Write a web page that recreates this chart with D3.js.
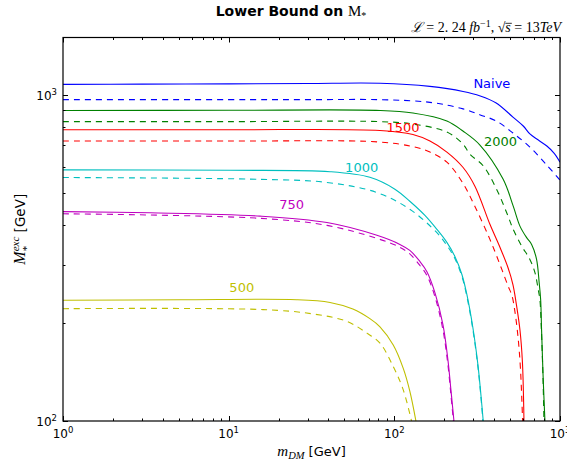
<!DOCTYPE html>
<html>
<head>
<meta charset="utf-8">
<script src="https://cdn.jsdelivr.net/npm/d3@7"></script>
<style>
  body { margin: 0; background: #ffffff; }
  svg { display: block; }
  text { white-space: pre; }
</style>
</head>
<body>
<svg id="chart" width="567" height="468"></svg>
<script>
// Lower bound on M_* as a function of the dark-matter mass.
// Solid lines: observed limit, dashed lines: expected limit.

// ---- axis ticks ----
const xMajorTicks = [1, 10, 100, 1000];
const xTickExponents = ["0", "1", "2", "3"];
const yMajorTicks = [100, 1000];
const yTickExponents = ["2", "3"];

// ---- series names ----
const seriesNames = ["Naive", "2000", "1500", "1000", "750", "500"];

// ---- Naive ----
const naiveSolidM     = [1, 3, 10, 30, 82, 164, 260, 330, 412, 520, 600, 658, 740, 833, 920, 1000];
const naiveSolidBound = [1077, 1079, 1081, 1084, 1086, 1062, 1025, 993, 945, 855, 803, 759, 727, 697, 663, 622];
const naiveDashM      = [1, 10, 30, 82, 164, 260, 330, 412, 520, 658, 833, 1000];
const naiveDashBound  = [967, 967, 967, 967, 949, 906, 868, 832, 764, 692, 609, 548];

// ---- 2000 ----
const m2000SolidM     = [1, 10, 82, 129.5, 207.6, 259.4, 328.6, 454, 522, 573, 629, 674, 722, 749, 764, 774, 792, 811];
const m2000SolidBound = [896, 897, 896, 880, 832, 775, 702, 551, 456, 396, 365, 348, 313, 265, 236, 190.5, 134, 100];
const m2000DashM      = [1, 10, 82, 129.5, 207.6, 259.4, 286, 344, 414, 476, 522, 587, 658, 706, 739, 756, 772, 790, 800];
const m2000DashBound  = [828, 828, 828, 814, 769, 707, 658, 606, 514, 436, 387, 344, 313, 285, 253, 236, 190.5, 134, 100];

// ---- 1500 ----
const m1500SolidM     = [1, 10, 81.9, 129.5, 164, 207.6, 259.4, 306.5, 377.6, 434, 485, 519.8, 542, 573, 593, 606];
const m1500SolidBound = [782, 782, 778, 756, 722, 668, 600, 525, 401, 341, 295.7, 262, 232.4, 190.5, 151.9, 100];
const m1500DashM      = [1, 10, 81.9, 129.5, 164, 207.6, 259.4, 306.5, 377.6, 434, 485, 512.6, 534.4, 557, 576.8, 594.7];
const m1500DashBound  = [722, 722, 717, 694, 668, 622, 536, 455, 360.5, 302, 260, 242.5, 216.5, 182.6, 145.6, 100];

// ---- 1000 ----
const m1000SolidM     = [1, 10.2, 40.9, 71.2, 100.8, 124, 153, 180.7, 207.6, 232, 255.8, 274.2, 298, 319.6, 333.2, 344];
const m1000SolidBound = [589, 587.5, 581.4, 559, 514, 472, 427, 387, 353, 319.6, 281.4, 244, 193.2, 148.7, 120.2, 100];
const m1000DashM      = [1, 15.45, 39.2, 78.5, 124, 180.7, 207.6, 232, 255.8, 274.2, 298, 319.6, 333.2, 342.5];
const m1000DashBound  = [558, 551, 539, 502, 446, 378, 345.6, 315, 277.5, 240.7, 190.5, 146.6, 118.5, 100];

// ---- 750 ----
const m750SolidM      = [1, 3.35, 15.45, 39.2, 78.5, 108, 124, 142.7, 157.3, 175.8, 196.5, 210.6, 219.6, 229];
const m750SolidBound  = [438.6, 435, 425, 406, 371, 348, 333.5, 308.5, 287, 247.6, 197.4, 154, 124.6, 100];
const m750DashM       = [1, 15.45, 39.2, 78.5, 108, 124, 142.7, 157.3, 175.8, 196.5, 210.6, 219.6, 227.3];
const m750DashBound   = [432, 418.4, 398, 363, 341, 325.3, 299.9, 279.4, 240.7, 190.5, 148.7, 120.2, 100];

// ---- 500 ----
const m500SolidM      = [1, 5.08, 25.7, 40.9, 56.2, 71.2, 81.9, 98.5, 113.2, 124, 135];
const m500SolidBound  = [234.5, 235.3, 235.5, 231, 220.5, 206, 194.5, 171, 145, 123.5, 100];
const m500DashM       = [1, 16.1, 32.3, 51.8, 68.3, 81.9, 98.5, 113.2, 127];
const m500DashBound   = [221, 219.6, 213, 202, 186, 173.4, 146.9, 124.6, 100];

// ---- assemble series ----
const colors = ["#0000ff", "#008000", "#ff0000", "#00bfbf", "#bf00bf", "#bfbf00"];
const solids = [
  [naiveSolidM, naiveSolidBound], [m2000SolidM, m2000SolidBound], [m1500SolidM, m1500SolidBound],
  [m1000SolidM, m1000SolidBound], [m750SolidM, m750SolidBound], [m500SolidM, m500SolidBound]
];
const dashes = [
  [naiveDashM, naiveDashBound], [m2000DashM, m2000DashBound], [m1500DashM, m1500DashBound],
  [m1000DashM, m1000DashBound], [m750DashM, m750DashBound], [m500DashM, m500DashBound]
];

// ---- layout ----
const plotLeft = 63, plotRight = 560, plotTop = 37.5, plotBottom = 421;
const SANS = "'DejaVu Sans', sans-serif";
const SERIF = "'Liberation Serif', 'DejaVu Serif', serif";

const svg = d3.select("#chart");

const x = d3.scaleLog().domain([1, 1000]).range([plotLeft, plotRight]);
const y = d3.scaleLog().domain([100, 1500]).range([plotBottom, plotTop]);

svg.append("defs").append("clipPath").attr("id", "plotclip")
  .append("rect").attr("x", plotLeft).attr("y", plotTop)
  .attr("width", plotRight - plotLeft).attr("height", plotBottom - plotTop);

// ---- curves ----
const line = d3.line()
  .x(d => x(d[0]))
  .y(d => y(d[1]))
  .curve(d3.curveCatmullRom.alpha(0.5));

const curves = svg.append("g").attr("clip-path", "url(#plotclip)");

function toPoints(pair) {
  return pair[0].map((m, i) => [m, pair[1][i]]);
}

seriesNames.forEach((name, i) => {
  curves.append("path")
    .datum(toPoints(solids[i]))
    .attr("fill", "none")
    .attr("stroke", colors[i])
    .attr("stroke-width", 1.1)
    .attr("d", line);
  curves.append("path")
    .datum(toPoints(dashes[i]))
    .attr("fill", "none")
    .attr("stroke", colors[i])
    .attr("stroke-width", 1.1)
    .attr("stroke-dasharray", "6,5")
    .attr("d", line);
});

// ---- curve annotations (anchored in data coordinates) ----
const labelAnchors = [[388, 1051], [438, 697], [112.7, 767], [63.5, 579], [24, 447], [12, 248]];
seriesNames.forEach((name, i) => {
  svg.append("text")
    .attr("x", x(labelAnchors[i][0]))
    .attr("y", y(labelAnchors[i][1]))
    .attr("text-anchor", "middle")
    .style("font-family", SANS)
    .style("font-size", "13px")
    .attr("fill", colors[i])
    .text(name);
});

// ---- axes frame and ticks (inward, on all four sides) ----
const axes = svg.append("g");
const majorLen = 5, minorLen = 2.5;

const xTickVals = x.ticks();
const yTickVals = y.ticks().filter(v => v <= 1500);

function isMajor(v) {
  const l = Math.log10(v);
  return Math.abs(l - Math.round(l)) < 1e-9;
}

xTickVals.forEach(v => {
  const px = Math.round(x(v)) + 0.5;
  const len = isMajor(v) ? majorLen : minorLen;
  axes.append("line").attr("x1", px).attr("x2", px).attr("y1", plotBottom).attr("y2", plotBottom - len)
    .attr("stroke", "#000").attr("stroke-width", 1);
  axes.append("line").attr("x1", px).attr("x2", px).attr("y1", plotTop).attr("y2", plotTop + len)
    .attr("stroke", "#000").attr("stroke-width", 1);
});

yTickVals.forEach(v => {
  const py = Math.round(y(v)) + 0.5;
  const len = isMajor(v) ? majorLen : minorLen;
  axes.append("line").attr("x1", plotLeft).attr("x2", plotLeft + len).attr("y1", py).attr("y2", py)
    .attr("stroke", "#000").attr("stroke-width", 1);
  axes.append("line").attr("x1", plotRight).attr("x2", plotRight - len).attr("y1", py).attr("y2", py)
    .attr("stroke", "#000").attr("stroke-width", 1);
});

axes.append("rect")
  .attr("x", plotLeft).attr("y", plotTop)
  .attr("width", plotRight - plotLeft).attr("height", plotBottom - plotTop)
  .attr("fill", "none").attr("stroke", "#000").attr("stroke-width", 1.2);

// ---- tick labels ----
xMajorTicks.forEach((v, i) => {
  const t = svg.append("text")
    .attr("x", x(v)).attr("y", plotBottom + 17)
    .attr("text-anchor", "middle")
    .style("font-family", SANS).style("font-size", "12px").attr("fill", "#000");
  t.append("tspan").text("10");
  t.append("tspan").attr("dy", -5).style("font-size", "8.5px").text(xTickExponents[i]);
});

yMajorTicks.forEach((v, i) => {
  const t = svg.append("text")
    .attr("x", plotLeft - 6).attr("y", y(v) + 5)
    .attr("text-anchor", "end")
    .style("font-family", SANS).style("font-size", "12px").attr("fill", "#000");
  t.append("tspan").text("10");
  t.append("tspan").attr("dy", -5).style("font-size", "8.5px").text(yTickExponents[i]);
});

// ---- rich text helper: lays pieces out left to right ----
function richText(parent, pieces) {
  const g = parent.append("g");
  let xPos = 0, prevStart = 0, maxEnd = 0;
  pieces.forEach(p => {
    const start = p.sameX ? prevStart : xPos;
    const t = g.append("text")
      .attr("x", start + (p.dx || 0)).attr("y", p.dy || 0)
      .style("font-family", p.family)
      .style("font-size", p.size + "px")
      .style("font-style", p.italic ? "italic" : "normal")
      .style("font-weight", p.bold ? "bold" : "normal")
      .style("white-space", "pre")
      .attr("fill", "#000")
      .text(p.text);
    const w = t.node().getComputedTextLength() + (p.dx || 0);
    if (p.overline) {
      g.append("line")
        .attr("x1", start).attr("x2", start + w + 1)
        .attr("y1", (p.dy || 0) - p.size * 0.62).attr("y2", (p.dy || 0) - p.size * 0.62)
        .attr("stroke", "#000").attr("stroke-width", 0.8);
    }
    prevStart = start;
    maxEnd = Math.max(maxEnd, start + w);
    xPos = p.sameX ? maxEnd : start + w;
    maxEnd = Math.max(maxEnd, xPos);
  });
  return { g, width: maxEnd };
}

// ---- title ----
const title = richText(svg, [
  { text: "Lower Bound on ", family: SANS, size: 14, bold: true },
  { text: "M", family: SERIF, size: 15 },
  { text: "*", family: SERIF, size: 10, dy: 3 }
]);
title.g.attr("transform", `translate(${291 - title.width / 2},16)`);

// ---- luminosity / energy note ----
const note = richText(svg, [
  { text: "ℒ", family: SERIF, size: 14, italic: true },
  { text: " = 2. 24 ", family: SERIF, size: 14 },
  { text: "fb", family: SERIF, size: 14, italic: true },
  { text: "−1", family: SERIF, size: 10, dy: -5 },
  { text: ", ", family: SERIF, size: 14 },
  { text: "√", family: SERIF, size: 14 },
  { text: "s", family: SERIF, size: 14, italic: true, overline: true },
  { text: " = 13", family: SERIF, size: 14 },
  { text: "TeV", family: SERIF, size: 14, italic: true }
]);
note.g.attr("transform", `translate(${plotRight + 1 - note.width},32)`);

// ---- x axis label ----
const xLab = richText(svg, [
  { text: "m", family: SERIF, size: 15, italic: true },
  { text: "DM", family: SERIF, size: 10.5, italic: true, dy: 3 },
  { text: " [GeV]", family: SANS, size: 13 }
]);
xLab.g.attr("transform", `translate(${(plotLeft + plotRight) / 2 - xLab.width / 2},456)`);

// ---- y axis label ----
const yLab = richText(svg, [
  { text: "M", family: SERIF, size: 16, italic: true },
  { text: "exc", family: SERIF, size: 11, italic: true, dy: -6 },
  { text: "*", family: SERIF, size: 11, dy: 5, sameX: true },
  { text: " [GeV]", family: SANS, size: 13.5 }
]);
yLab.g.attr("transform", `translate(25,${(plotTop + plotBottom) / 2 + yLab.width / 2}) rotate(-90)`);
</script>
</body>
</html>
